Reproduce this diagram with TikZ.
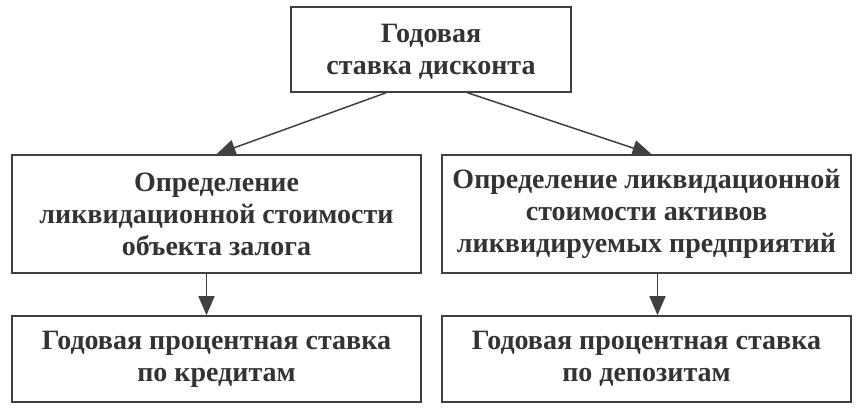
\documentclass[tikz,border=0pt]{standalone}
\usepackage{fontspec}
\setmainfont{Liberation Serif}
\usetikzlibrary{arrows.meta,calc}

\tikzset{
  block/.style={draw=black!75, line width=1.6pt, rectangle, align=center,
    text=black!80, font=\bfseries\fontsize{28}{32}\selectfont,
    minimum width=409pt, inner sep=0pt},
  link/.style={draw=black!75, line width=1.5pt, ->}
}

\begin{document}
\begin{tikzpicture}[x=1pt, y=-1pt, >={Triangle[length=19pt,width=16pt]}]
  \useasboundingbox (0,0) rectangle (863,417);

  \node[block, minimum width=280pt, minimum height=85pt] (rate) at (431,49.5)
    {\rule{0pt}{22pt}Годовая\\ставка дисконта};

  \node[block, minimum height=118pt] (pledge) at (216.5,214)
    {Определение\\ликвидационной стоимости\\объекта залога};
  \node[block, minimum height=118pt] (assets) at (646.5,214)
    {Определение ликвидационной\\стоимости активов\\ликвидируемых предприятий};

  \node[block, minimum height=86pt] (credit) at (216.5,359)
    {Годовая процентная ставка\\по кредитам};
  \node[block, minimum height=86pt] (deposit) at (646.5,359)
    {Годовая процентная ставка\\по депозитам};

  % arrows
  \draw[link] ($(rate.south west)!0.34!(rate.south east)$) -- (pledge.north);
  \draw[link] ($(rate.south west)!0.63!(rate.south east)$) -- ([xshift=5pt]assets.north);
  \draw[link] ([xshift=-10pt]pledge.south) -- ([xshift=-10pt]credit.north);
  \draw[link] ([xshift=11pt]assets.south) -- ([xshift=11pt]deposit.north);
\end{tikzpicture}
\end{document}
